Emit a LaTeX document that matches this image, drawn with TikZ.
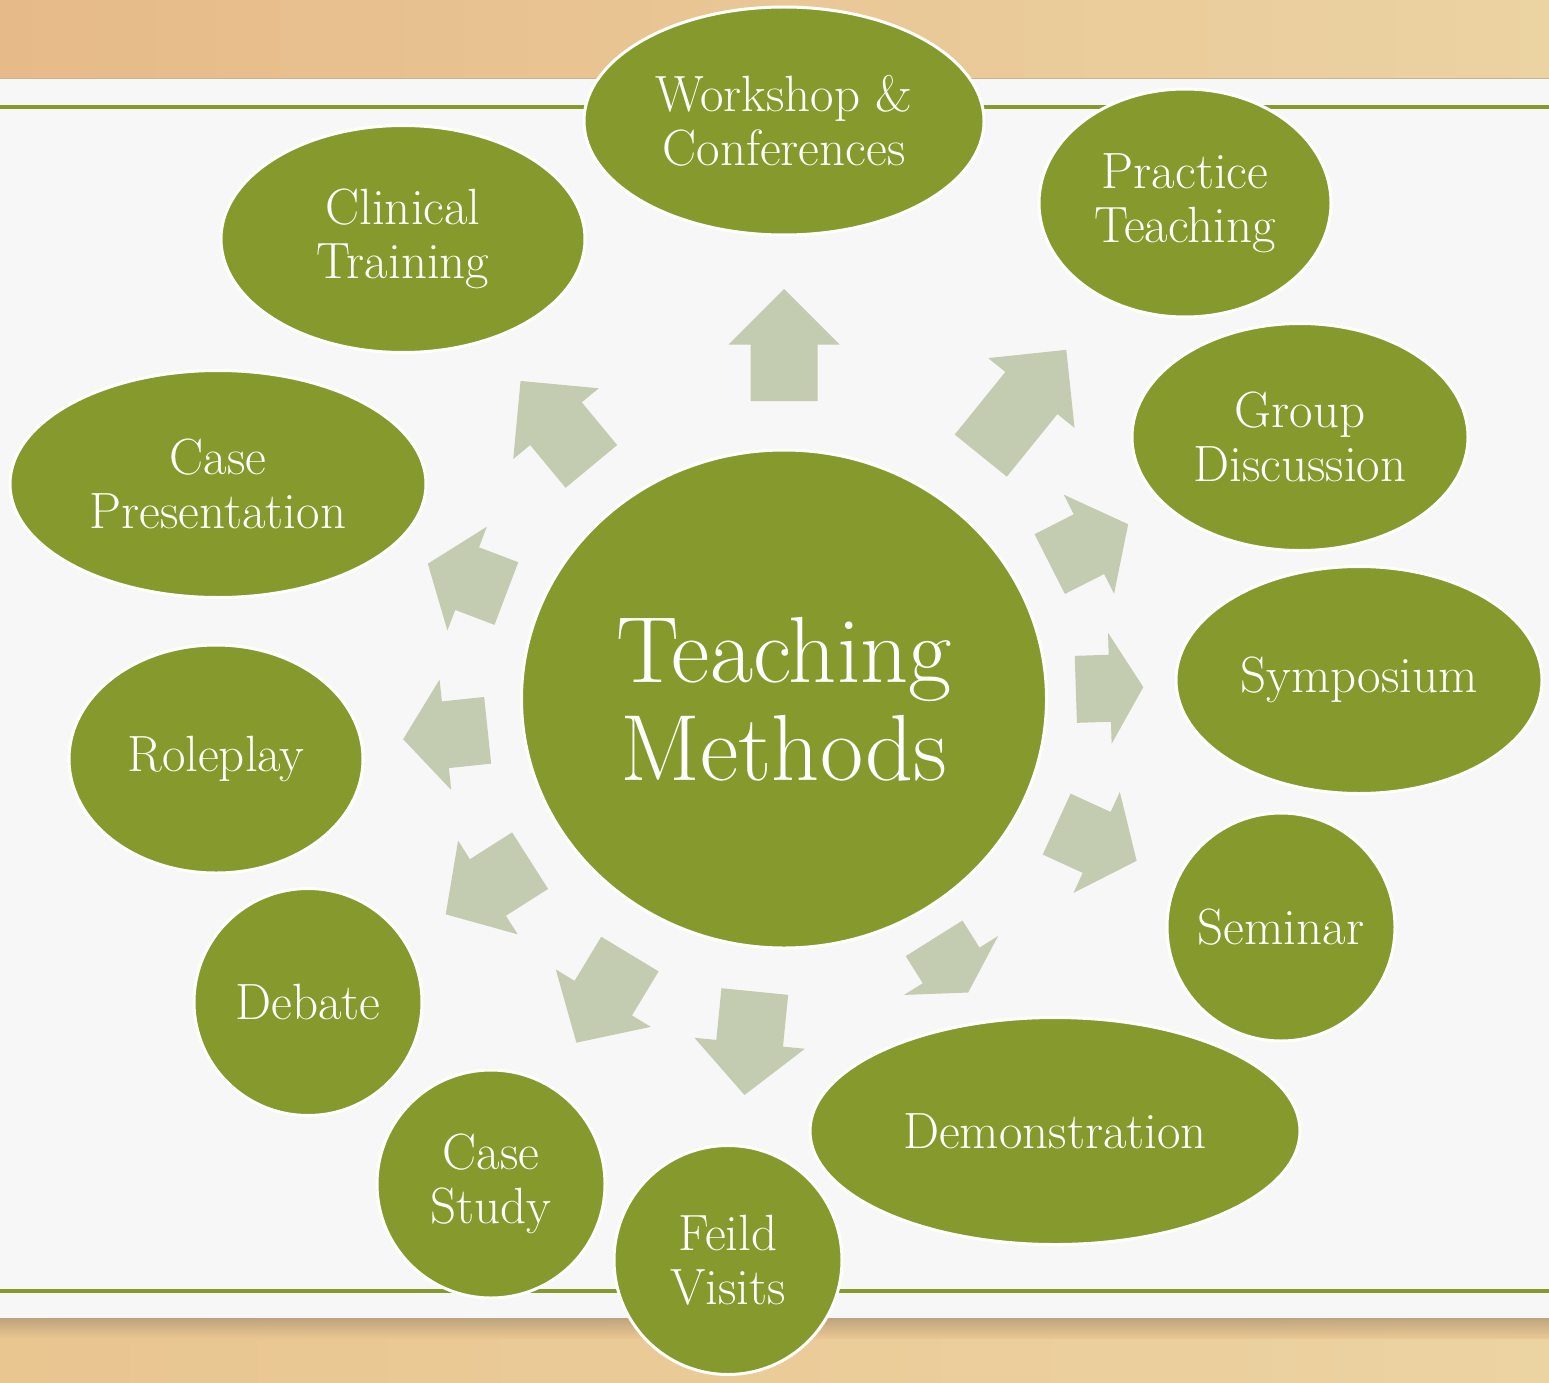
\documentclass[tikz,border=0pt]{standalone}
\usepackage{fontspec}
\usetikzlibrary{shapes.geometric,calc}
\definecolor{leaf}{HTML}{85992C}
\definecolor{sage}{HTML}{C3CBB0}
\definecolor{woodA}{HTML}{E7BA89}
\definecolor{woodB}{HTML}{ECD3A2}
\definecolor{woodC}{HTML}{E9C590}
\definecolor{woodShadow}{HTML}{B39B78}
\definecolor{paper}{HTML}{F7F7F7}
\definecolor{edge}{HTML}{C9B48C}
\begin{document}
\begin{tikzpicture}[x=1pt,y=-1pt,
  bubble/.style={ellipse, fill=leaf, draw=white, line width=3pt, inner ysep=0pt, inner xsep=-25pt,
    text=white, align=center, font=\fontsize{51}{54}\selectfont},
  rule/.style={leaf, line width=3.5pt}]
\useasboundingbox (0,0) rectangle (1549,1383);
% background
\shade[left color=woodA, right color=woodB] (0,0) rectangle (1549,80);
\shade[left color=woodC, right color=woodB] (0,1318) rectangle (1549,1383);
\shade[top color=woodShadow, bottom color=woodC, opacity=0.8] (0,1318) rectangle (1549,1338);
\fill[paper] (0,79) rectangle (1549,1318);
\draw[edge, line width=1pt] (0,79) -- (1549,79);
\draw[rule] (0,107) -- (1549,107);
\draw[rule] (0,1291) -- (1549,1291);
% nodes
\node[bubble, minimum width=525pt, minimum height=498pt, font=\fontsize{94}{98}\selectfont] (C) at (784,699) {Teaching\\Methods};
\node[bubble, minimum width=400pt, minimum height=228pt] (W) at (784,121) {Workshop \&\\Conferences};
\node[bubble, minimum width=292pt, minimum height=228pt] (P) at (1185,203) {Practice\\Teaching};
\node[bubble, minimum width=336pt, minimum height=227pt] (G) at (1300,437) {Group\\Discussion};
\node[bubble, minimum width=366pt, minimum height=227pt] (S) at (1359,680) {Symposium};
\node[bubble, minimum width=228pt, minimum height=228pt] (Se) at (1281,927) {Seminar};
\node[bubble, minimum width=490pt, minimum height=227pt] (D) at (1055,1131) {Demonstration};
\node[bubble, minimum width=228pt, minimum height=229pt] (F) at (728,1260) {Feild\\Visits};
\node[bubble, minimum width=228pt, minimum height=228pt] (CS) at (491,1184) {Case\\Study};
\node[bubble, minimum width=228pt, minimum height=227pt] (Db) at (308,1002) {Debate};
\node[bubble, minimum width=294pt, minimum height=228pt] (R) at (216,759) {Roleplay};
\node[bubble, minimum width=416pt, minimum height=227pt] (CP) at (218,484) {Case\\Presentation};
\node[bubble, minimum width=364pt, minimum height=227pt] (CT) at (403,239) {Clinical\\Training};
% block arrows from the centre towards each bubble
\foreach \tg/\bs/\tp/\hd in {W/298/410/55.5, P/313/449/55.5, G/298/386/44, S/292/359.5/33.5,
    Se/300/388/44, D/282.5/346.5/32, F/294/398/52, CS/298/401.5/52, Db/301/401/50,
    R/298/383/42.5, CP/297/381/42, CT/302/413/55.5}{
  \pgfmathsetmacro\hbase{\tp-\hd}
  \coordinate (ab) at ($(C.center)!\bs pt!(\tg.center)$);
  \coordinate (at) at ($(C.center)!\tp pt!(\tg.center)$);
  \coordinate (ah) at ($(C.center)!\hbase pt!(\tg.center)$);
  \fill[sage] ($(ab)!33.5pt!90:(at)$) -- ($(ah)!33.5pt!-90:(ab)$) -- ($(ah)!55.5pt!-90:(ab)$)
    -- (at) -- ($(ah)!55.5pt!90:(ab)$) -- ($(ah)!33.5pt!90:(ab)$) -- ($(ab)!33.5pt!-90:(at)$) -- cycle;
}
\end{tikzpicture}
\end{document}
